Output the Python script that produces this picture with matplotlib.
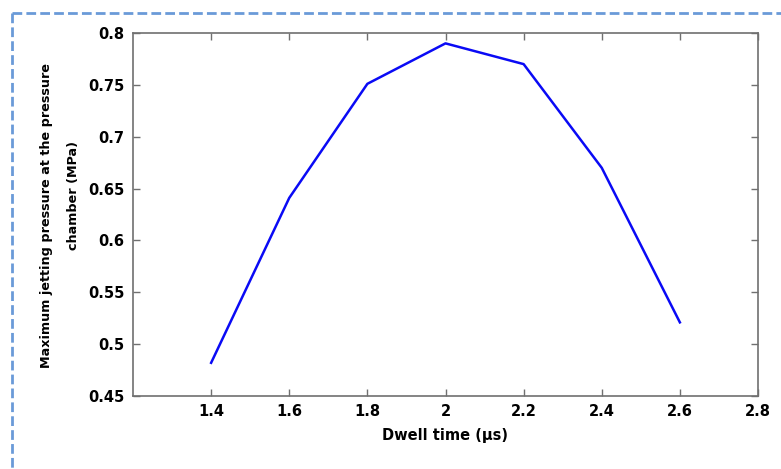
import matplotlib
matplotlib.use("Agg")
import matplotlib.pyplot as plt
from matplotlib.lines import Line2D

dwell_time = [1.4, 1.6, 1.8, 2.0, 2.2, 2.4, 2.6]
max_pressure = [0.482, 0.641, 0.751, 0.790, 0.770, 0.670, 0.521]
xticks = [1.4, 1.6, 1.8, 2.0, 2.2, 2.4, 2.6, 2.8]
xtick_labels = ["1.4", "1.6", "1.8", "2", "2.2", "2.4", "2.6", "2.8"]
yticks = [0.45, 0.5, 0.55, 0.6, 0.65, 0.7, 0.75, 0.8]
ytick_labels = ["0.45", "0.5", "0.55", "0.6", "0.65", "0.7", "0.75", "0.8"]

plt.rcParams['font.family'] = ['DejaVu Sans']

W, H = 781, 469
fig = plt.figure(figsize=(W/100, H/100), dpi=100)
ax = fig.add_axes([133/W, 1-396/H, (758-133)/W, (396-33)/H])

ax.plot(dwell_time, max_pressure, color='#0a0af5', lw=1.8)
ax.set_xlim(1.2, 2.8)
ax.set_ylim(0.45, 0.8)
ax.set_xticks(xticks)
ax.set_xticklabels(xtick_labels)
ax.set_yticks(yticks)
ax.set_yticklabels(ytick_labels)
ax.tick_params(direction='in', top=True, right=True, length=5, width=1,
               color='#707070', labelsize=10.5, pad=6)
for lab in ax.get_xticklabels() + ax.get_yticklabels():
    lab.set_fontweight('bold')
for sp in ax.spines.values():
    sp.set_color('#707070')
    sp.set_linewidth(1.2)

ax.set_xlabel("Dwell time (\u03bcs)", fontsize=10.5, fontweight='bold', labelpad=6)

fig.text(47/W, 1-215/H, "Maximum jetting pressure at the pressure",
         rotation=90, ha='center', va='center', fontsize=9.2, fontweight='bold')
fig.text(74/W, 1-195/H, "chamber (MPa)",
         rotation=90, ha='center', va='center', fontsize=9.2, fontweight='bold')

# dashed border (top and left)
bc = '#6a9ad8'
fig.add_artist(Line2D([12/W, 1.0], [1-13/H, 1-13/H], transform=fig.transFigure,
                      color=bc, lw=2, ls=(0, (3.5, 1.5))))
fig.add_artist(Line2D([12/W, 12/W], [1-13/H, 0.0], transform=fig.transFigure,
                      color=bc, lw=2, ls=(0, (3.5, 1.5))))

fig.savefig("out.png", dpi=100)
